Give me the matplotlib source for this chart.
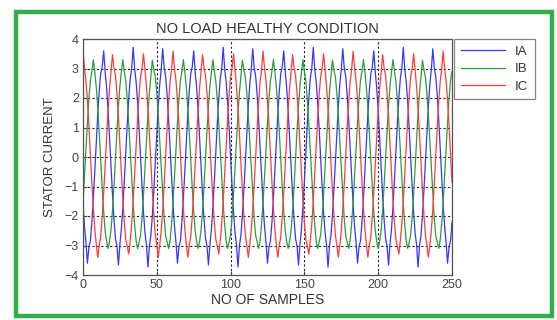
"""Stator current, no load healthy condition (three phase)."""

import numpy as np
import matplotlib
matplotlib.use("Agg")
import matplotlib.pyplot as plt
from matplotlib.patches import Rectangle

# three cycles (61 samples) of each phase current;
# the record repeats this block over 0..250
ia_block = [-1.60, -2.36, -2.90, -3.60, -3.05, -2.84, -2.22, -1.42, -0.48, 0.51,
            1.45, 2.24, 2.83, 3.05, 3.60, 2.89, 2.34, 1.56, 0.64, -0.35,
            -1.30, -2.12, -2.76, -3.02, -3.66, -2.96, -2.45, -1.70, -0.80, 0.18,
            1.15, 2.00, 2.66, 3.00, 3.72, 2.98, 2.55, 1.84, 0.96, -0.02,
            -0.99, -1.87, -2.57, -2.98, -3.73, -3.00, -2.65, -1.97, -1.11, -0.15,
            0.83, 1.73, 2.47, 2.97, 3.67, 3.02, 2.73, 2.10, 1.27, 0.31,
            -0.67]
ib_block = [-1.55, -0.67, 0.26, 1.17, 1.98, 2.59, 2.90, 3.30, 2.88, 2.37,
            1.68, 0.83, -0.11, -1.03, -1.85, -2.50, -2.87, -3.10, -2.86, -2.47,
            -1.81, -0.98, -0.05, 0.88, 1.73, 2.41, 2.88, 3.30, 2.90, 2.56,
            1.93, 1.12, 0.21, -0.73, -1.59, -2.31, -2.85, -3.10, -2.88, -2.64,
            -2.05, -1.27, -0.36, 0.57, 1.46, 2.20, 2.74, 3.28, 2.95, 2.71,
            2.16, 1.41, 0.52, -0.42, -1.32, -2.09, -2.67, -2.88, -3.10, -2.82,
            -2.27]
ic_block = [3.59, 3.00, 2.59, 1.92, 1.07, 0.11, -0.85, -1.73, -2.45, -2.97,
            -3.40, -3.00, -2.68, -2.04, -1.22, -0.28, 0.69, 1.59, 2.34, 2.90,
            3.47, 3.02, 2.76, 2.16, 1.36, 0.44, -0.53, -1.45, -2.23, -2.80,
            -3.02, -3.29, -2.83, -2.28, -1.51, -0.60, 0.37, 1.31, 2.12, 2.72,
            3.00, 3.50, 2.93, 2.39, 1.65, 0.76, -0.21, -1.16, -1.99, -2.64,
            -3.00, -3.40, -2.97, -2.49, -1.79, -0.91, 0.05, 1.00, 1.86, 2.55,
            2.97]
n_samples = 251

labels = ["IA", "IB", "IC"]
colors = ["#3535ff", "#2a9c3a", "#ff3a3a"]

x_ticks = [0, 50, 100, 150, 200, 250]
y_ticks = [-4, -3, -2, -1, 0, 1, 2, 3, 4]


def main():
    plt.rcParams["font.family"] = ["Liberation Sans", "DejaVu Sans"]
    fig = plt.figure(figsize=(5.57, 3.2), dpi=100)
    fig.patch.set_facecolor("white")

    # green frame round the whole figure
    fig.patches.append(Rectangle((16 / 557, 4 / 320), 536 / 557, 304 / 320,
                                 transform=fig.transFigure, fill=False,
                                 edgecolor="#2fae4a", linewidth=3.2))

    ax = fig.add_axes([83 / 557, 1 - 275 / 320, 369 / 557, 236 / 320])

    n = np.arange(n_samples)
    for block, lab, col in zip([ia_block, ib_block, ic_block], labels, colors):
        block = np.array(block)
        ax.plot(n, block[n % len(block)], color=col, lw=0.9, label=lab)

    ax.set_xlim(0, 250)
    ax.set_ylim(-4, 4)
    ax.set_xticks(x_ticks)
    ax.set_yticks(y_ticks)
    ax.tick_params(direction="in", length=3, labelsize=9, colors="#444444",
                   width=0.8, pad=3)
    for s in ax.spines.values():
        s.set_color("#555555")
        s.set_linewidth(0.9)
    ax.grid(True, color="#222222", linestyle=(0, (2, 2)), linewidth=0.8)

    ax.set_title("NO LOAD HEALTHY CONDITION", fontsize=10.5, color="#333333",
                 pad=4)
    ax.set_xlabel("NO OF SAMPLES", fontsize=10, color="#333333", labelpad=1)
    ax.set_ylabel("STATOR CURRENT", fontsize=9.5, color="#333333", labelpad=6)

    leg = ax.legend(loc="upper left", bbox_to_anchor=(454 / 557, 1 - 39 / 320),
                    bbox_transform=fig.transFigure, fontsize=9.5, frameon=True,
                    fancybox=False, borderaxespad=0, handlelength=3.4,
                    handletextpad=0.7, labelspacing=0.4, borderpad=0.5)
    leg.get_frame().set_edgecolor("#666666")
    leg.get_frame().set_linewidth(0.9)
    for t in leg.get_texts():
        t.set_color("#333333")

    fig.savefig("out.png", dpi=100, facecolor="white")
    plt.close(fig)


if __name__ == "__main__":
    main()
